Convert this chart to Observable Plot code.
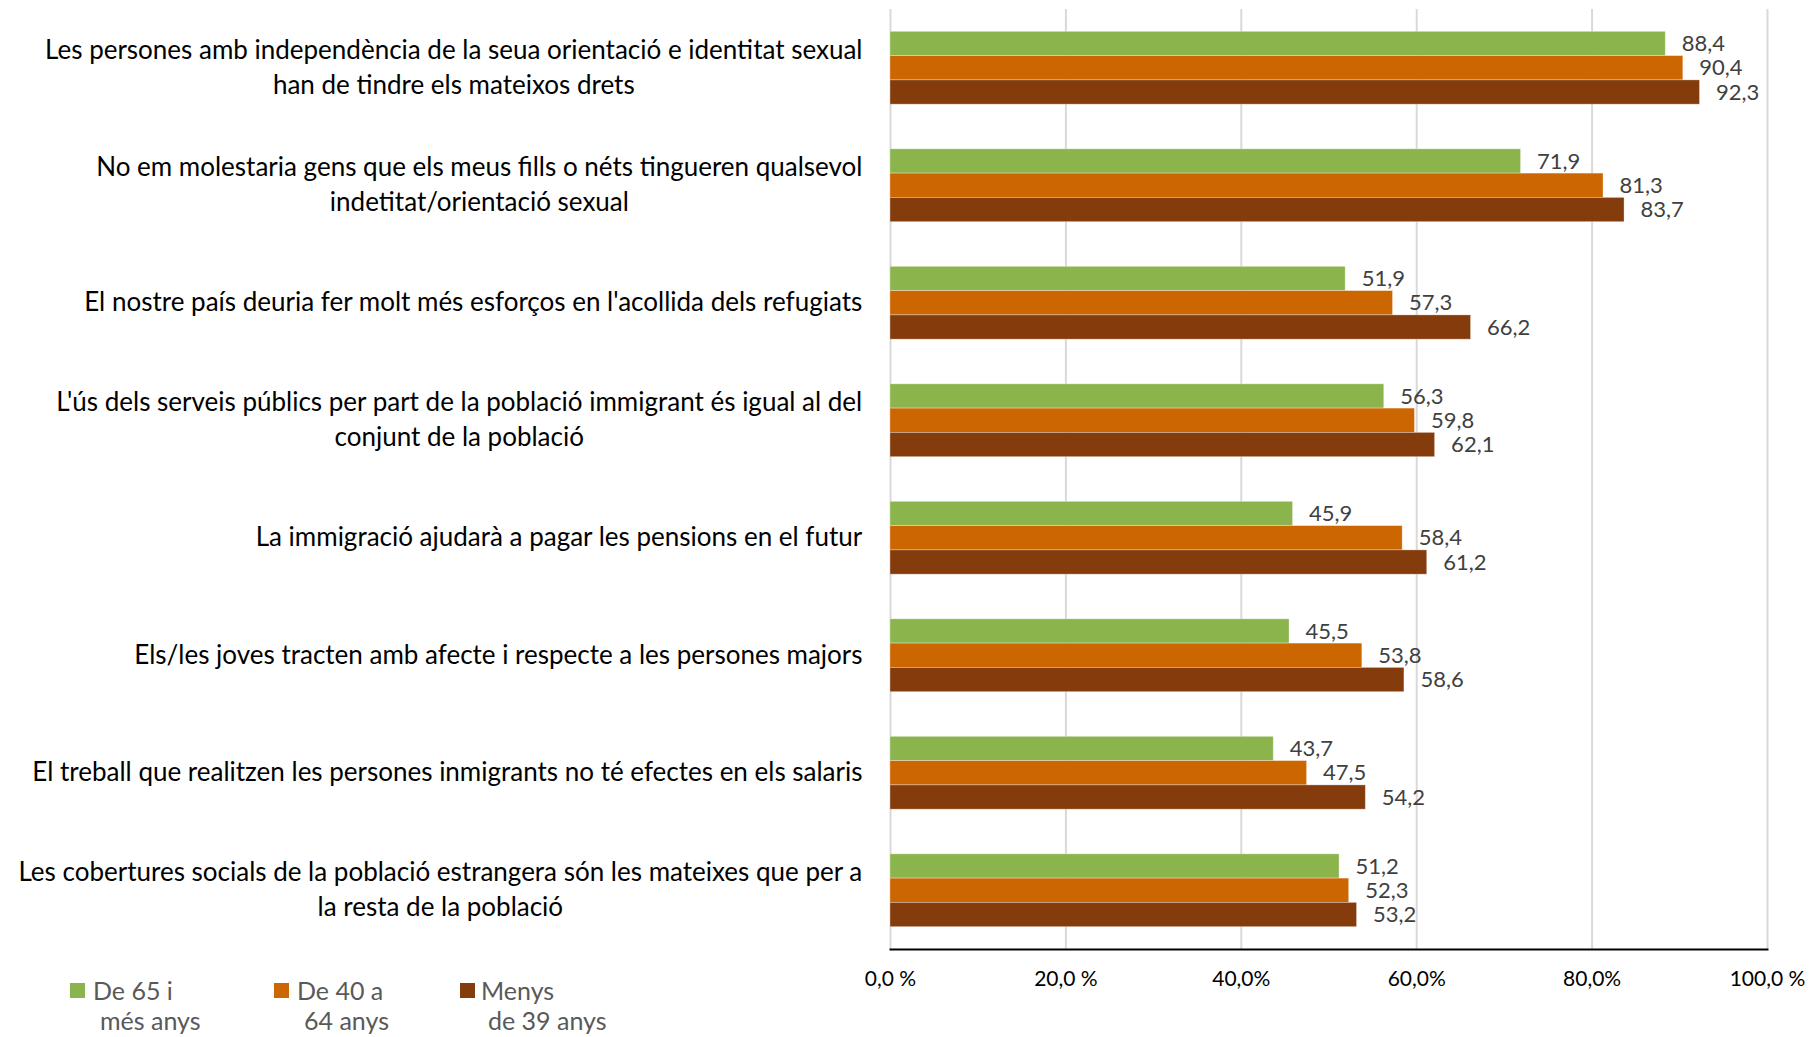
<!DOCTYPE html>
<html><head><meta charset="utf-8">
<script src="https://cdn.jsdelivr.net/npm/d3@7"></script>
<script src="https://cdn.jsdelivr.net/npm/@observablehq/plot@0.6"></script>
<style>
body{margin:0;background:#fff}
#wrap{position:relative;width:1819px;height:1037px;font-family:Lato,sans-serif;overflow:hidden}
.lg{position:absolute;font-size:25px;color:#595959;line-height:1;white-space:nowrap}
.sq{position:absolute;width:15px;height:15px}
</style>
</head><body><div id="wrap"></div>
<script>
const categories = [
  "Les persones amb independència de la seua orientació e identitat sexual\nhan de tindre els mateixos drets",
  "No em molestaria gens que els meus fills o néts tingueren qualsevol\nindetitat/orientació sexual",
  "El nostre país deuria fer molt més esforços en l'acollida dels refugiats",
  "L'ús dels serveis públics per part de la població immigrant és igual al del\nconjunt de la població",
  "La immigració ajudarà a pagar les pensions en el futur",
  "Els/les joves tracten amb afecte i respecte a les persones majors",
  "El treball que realitzen les persones inmigrants no té efectes en els salaris",
  "Les cobertures socials de la població estrangera són les mateixes que per a\nla resta de la població"
];
const series = ["De 65 i més anys", "De 40 a 64 anys", "Menys de 39 anys"];
const legendLines = [["De 65 i", "més anys"], ["De 40 a", "64 anys"], ["Menys", "de 39 anys"]];
const colors = ["#8BB54C", "#CC6600", "#843C0C"];
const values65 = [88.4, 71.9, 51.9, 56.3, 45.9, 45.5, 43.7, 51.2];
const values40 = [90.4, 81.3, 57.3, 59.8, 58.4, 53.8, 47.5, 52.3];
const valuesMenys = [92.3, 83.7, 66.2, 62.1, 61.2, 58.6, 54.2, 53.2];
const xTicks = [0, 20, 40, 60, 80, 100];
const xTickLabels = ["0,0 %", "20,0 %", "40,0%", "60,0%", "80,0%", "100,0 %"];

const seriesValues = [values65, values40, valuesMenys];
const rows = series.map((s, i) => categories.map((c, j) => ({cat: c, series: s, value: seriesValues[i][j]})));

const W = 1819, H = 1037, mL = 890, mR = 52, mT = 9, mB = 88;
const padIn = 0.38, padOut = 0.19;
const band = d3.scaleBand().domain(categories).range([mT, H - mB]).paddingInner(padIn).paddingOuter(padOut);
const barH = band.bandwidth() / series.length;

const labelFont = 26, labelGap = 28;
const ctx = document.createElement("canvas").getContext("2d");
ctx.font = `${labelFont}px Lato`;
const fmt = v => v.toFixed(1).replace(".", ",");

const labelMarks = categories.map(c => {
  const w = d3.max(c.split("\n"), l => ctx.measureText(l).width);
  return Plot.text([c], {x: () => 0, y: d => d, text: d => d, textAnchor: "middle", lineAnchor: "middle",
    lineHeight: 1.34, dx: -(labelGap + w / 2), dy: -3, fontSize: labelFont, fill: "#000"});
});

const barMarks = rows.map((r, i) => Plot.barX(r, {x: "value", y: "cat", fill: colors[i],
  insetTop: i * barH, insetBottom: (series.length - 1 - i) * barH, stroke: "#fff", strokeOpacity: 0.4, strokeWidth: 0.8}));
const valueMarks = rows.map((r, i) => Plot.text(r, {x: "value", y: "cat", text: d => fmt(d.value),
  textAnchor: "start", dx: 16, dy: (i - 1) * barH, fontSize: 22, fill: "#404040"}));

const chart = Plot.plot({
  width: W, height: H, marginLeft: mL, marginRight: mR, marginTop: mT, marginBottom: mB,
  style: {fontFamily: "Lato, sans-serif", background: "#fff", overflow: "visible"},
  x: {domain: [0, 100], axis: null, label: null},
  y: {domain: categories, paddingInner: padIn, paddingOuter: padOut, round: false, axis: null, label: null},
  marks: [
    Plot.ruleX(xTicks, {stroke: "#D9D9D9", strokeWidth: 2}),
    ...barMarks,
    ...valueMarks,
    Plot.frame({anchor: "bottom", stroke: "#000", strokeWidth: 2}),
    Plot.axisX(xTicks, {tickFormat: d => xTickLabels[xTicks.indexOf(d)], tickSize: 0, tickPadding: 22,
      fontSize: 21, fill: "#000", label: null}),
    ...labelMarks
  ]
});
const wrap = document.getElementById("wrap");
wrap.appendChild(chart);

const sqX = [70, 274, 460], t1X = [93, 297, 481], t2X = [100, 304, 488];
series.forEach((s, i) => {
  const sq = document.createElement("div");
  sq.className = "sq"; sq.style.left = sqX[i] + "px"; sq.style.top = "983px"; sq.style.background = colors[i];
  wrap.appendChild(sq);
  const a = document.createElement("div");
  a.className = "lg"; a.style.left = t1X[i] + "px"; a.style.top = "978px"; a.textContent = legendLines[i][0];
  wrap.appendChild(a);
  const b = document.createElement("div");
  b.className = "lg"; b.style.left = t2X[i] + "px"; b.style.top = "1008px"; b.textContent = legendLines[i][1];
  wrap.appendChild(b);
});
</script>
</body></html>
